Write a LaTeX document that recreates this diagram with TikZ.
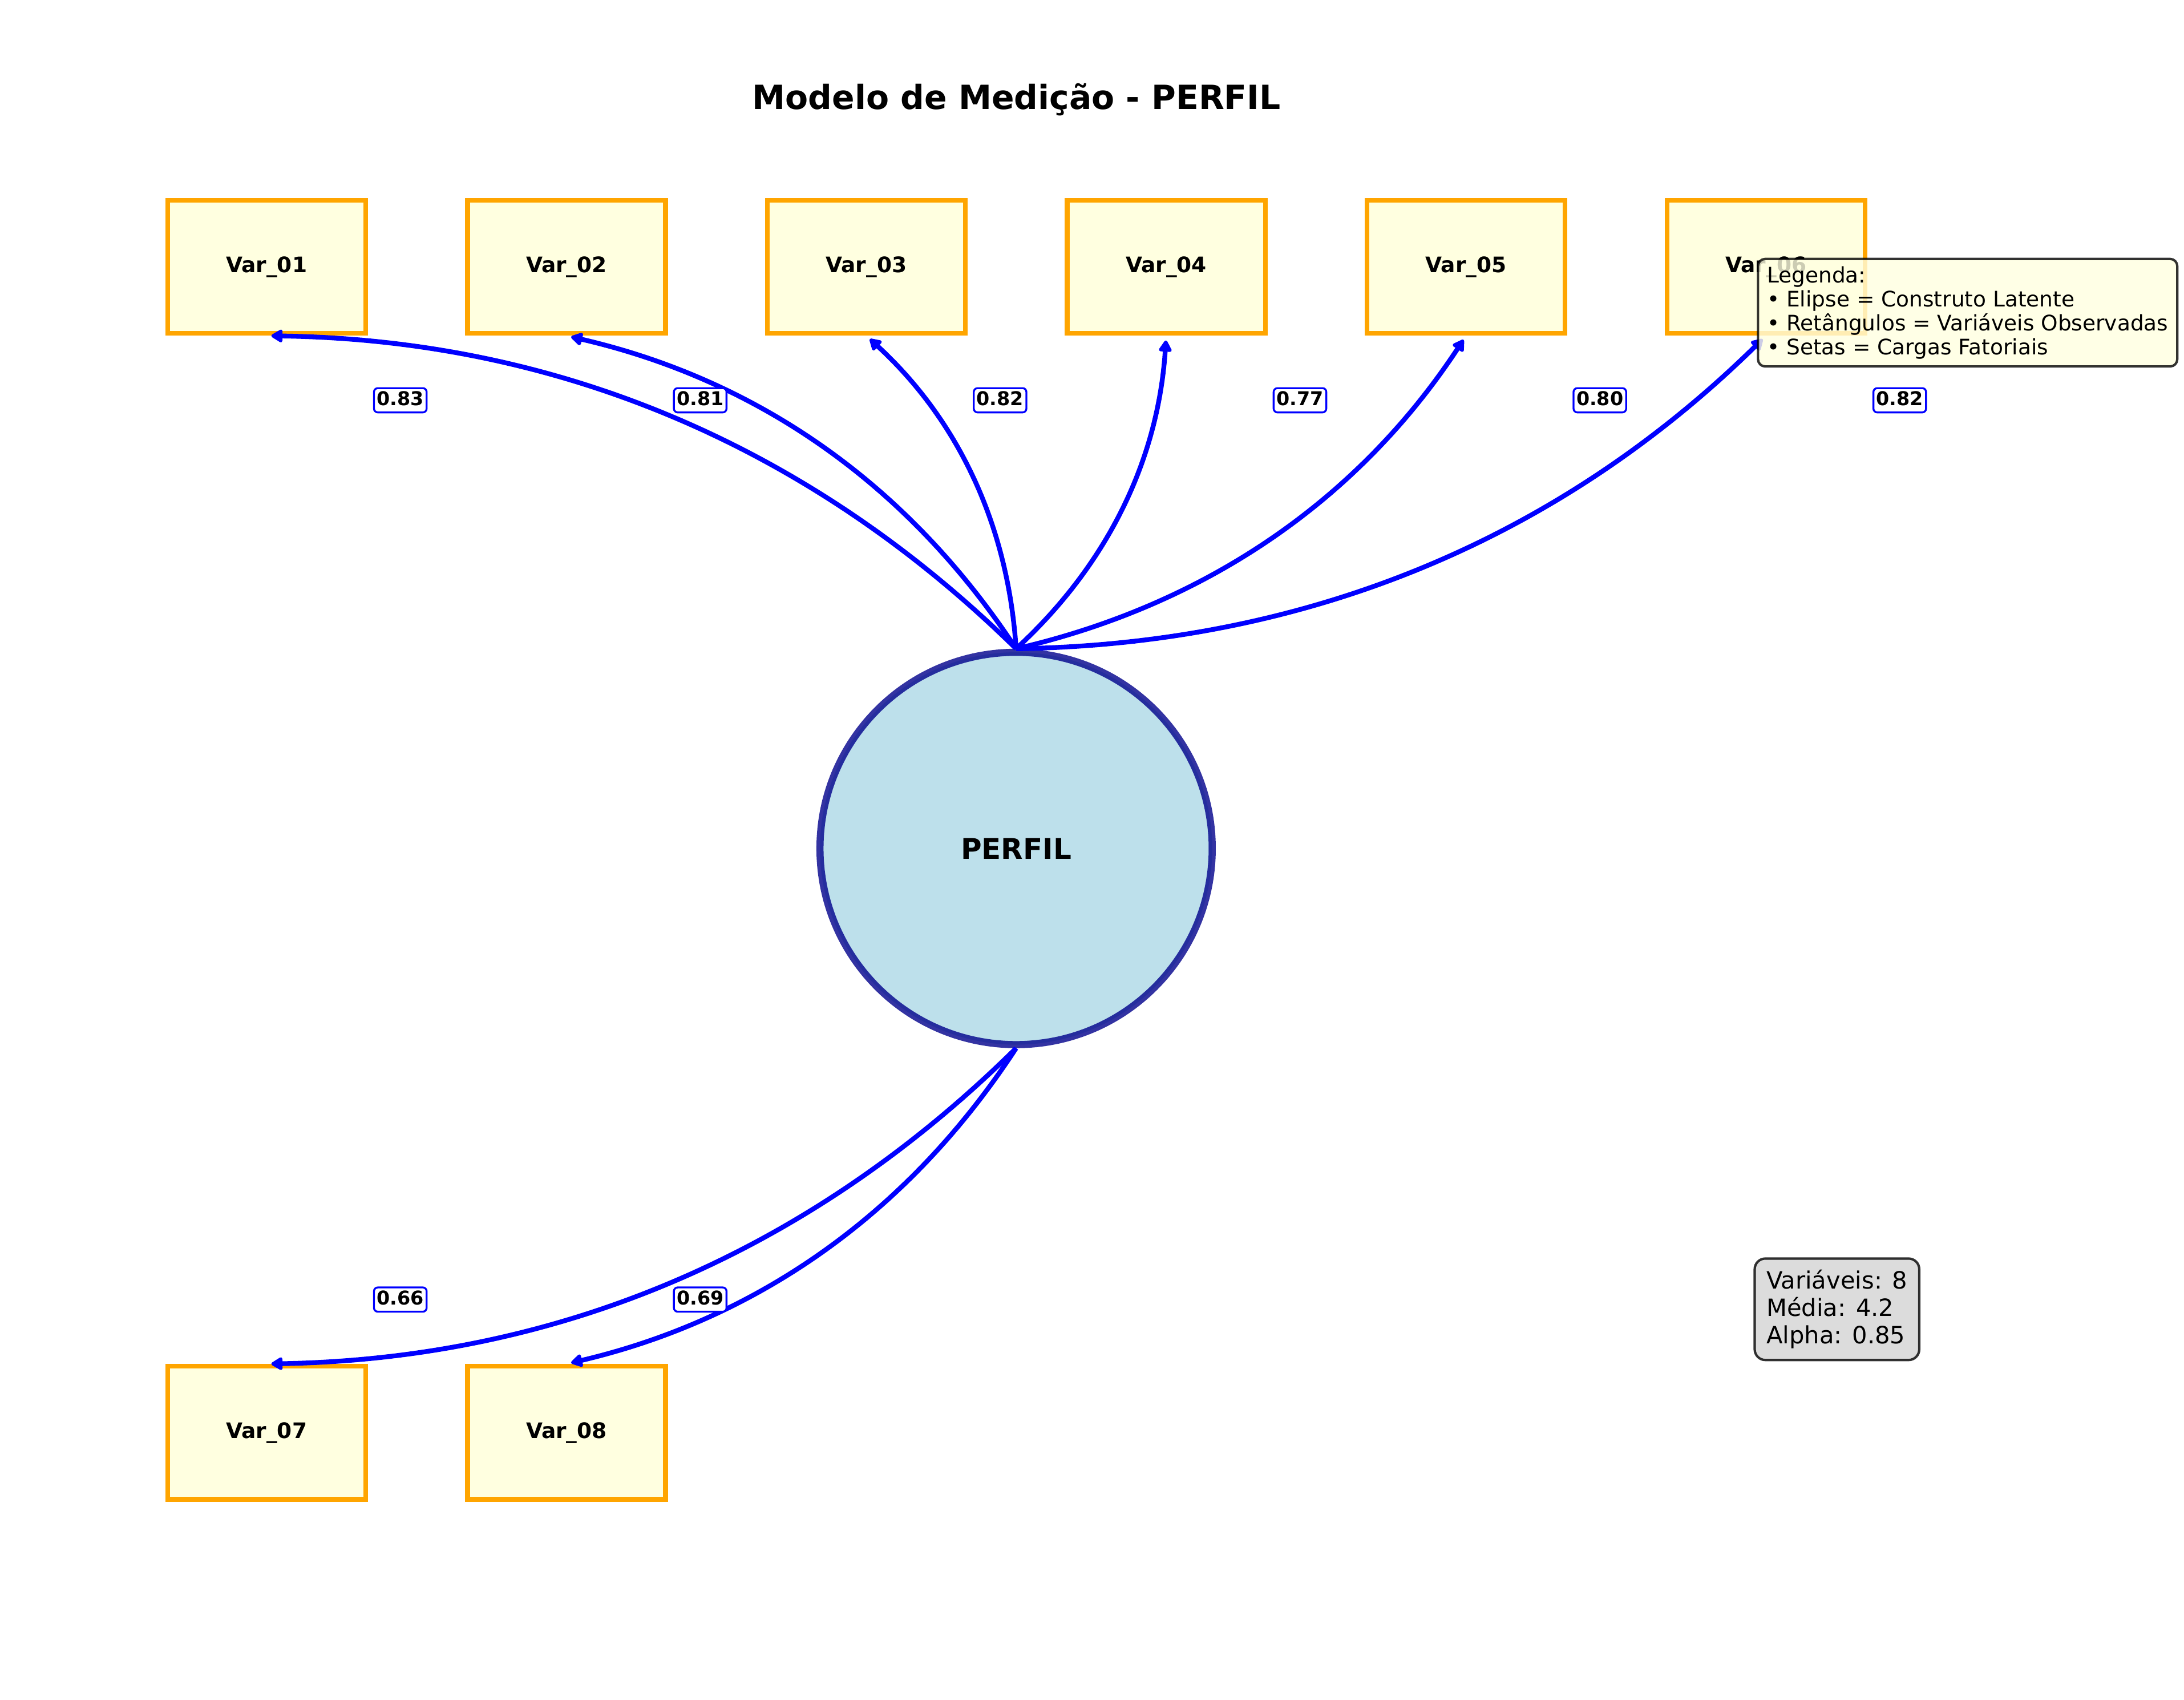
\documentclass[tikz,border=0pt]{standalone}
\usepackage{fontspec}
\setmainfont{DejaVu Sans}
\usepackage{tikz}
\usetikzlibrary{arrows.meta}
\definecolor{boxorange}{HTML}{FFA500}
\definecolor{boxfill}{HTML}{FFFFE0}
\definecolor{latentfill}{HTML}{ADD8E6}
\definecolor{latentedge}{HTML}{00008B}
\definecolor{statsfill}{HTML}{D3D3D3}
\tikzset{var/.style = {draw=boxorange, fill=boxfill, line width=2pt,
                       minimum width=83.3pt, minimum height=56pt, inner sep=0pt,
                       font=\bfseries\fontsize{9}{10.8}\selectfont}}
\tikzset{latent/.style = {circle, draw=latentedge, draw opacity=0.8,
                          fill=latentfill, fill opacity=0.8, text opacity=1,
                          line width=3pt, minimum size=165pt,
                          font=\bfseries\fontsize{12}{14.4}\selectfont}}
\tikzset{loading/.style = {draw=blue, line width=2pt, shorten >=2pt,
                           -{Triangle[length=5.4pt, width=6pt, round]}}}
\tikzset{weight/.style = {draw=blue, fill=white, line width=0.8pt, rounded corners=1.6pt,
                          inner xsep=1.2pt, inner ysep=1.4pt,
                          text height=5.9pt, text depth=1.5pt,
                          font=\bfseries\fontsize{8}{9.6}\selectfont}}
\tikzset{infobox/.style = {draw=black, draw opacity=0.8, fill opacity=0.8, text opacity=1,
                           line width=1pt, align=left, anchor=north west}}

\begin{document}
\begin{tikzpicture}[x=0.5859pt, y=-0.5859pt]
      \useasboundingbox (0, 0) rectangle (1568, 1220);
      \node [anchor=base, font=\bfseries\fontsize{14}{16.8}\selectfont] (title) at (729.8, 78.5) {Modelo de Medição - PERFIL};
      \node [latent] (perfil) at (729.5, 609) {PERFIL};
      \node [var] (var01) at (191.4, 191.5) {Var\_01};
      \node [var] (var02) at (406.7, 191.5) {Var\_02};
      \node [var] (var03) at (622.0, 191.5) {Var\_03};
      \node [var] (var04) at (837.3, 191.5) {Var\_04};
      \node [var] (var05) at (1052.6, 191.5) {Var\_05};
      \node [var] (var06) at (1267.9, 191.5) {Var\_06};
      \node [var] (var07) at (191.4, 1028.5) {Var\_07};
      \node [var] (var08) at (406.7, 1028.5) {Var\_08};
      \draw [loading] (perfil.north) to [bend right=21.8, looseness=0.917] (var01.south);
      \draw [loading] (perfil.north) to [bend right=21.8, looseness=0.917] (var02.south);
      \draw [loading] (perfil.north) to [bend right=21.8, looseness=0.917] (var03.south);
      \draw [loading] (perfil.north) to [bend right=21.8, looseness=0.917] (var04.south);
      \draw [loading] (perfil.north) to [bend right=21.8, looseness=0.917] (var05.south);
      \draw [loading] (perfil.north) to [bend right=21.8, looseness=0.917] (var06.south);
      \draw [loading] (perfil.south) to [bend left=21.8, looseness=0.917] (var07.north);
      \draw [loading] (perfil.south) to [bend left=21.8, looseness=0.917] (var08.north);
      \node [weight] (w01) at (287.4, 287.3) {0.83};
      \node [weight] (w02) at (502.7, 287.3) {0.81};
      \node [weight] (w03) at (718.0, 287.3) {0.82};
      \node [weight] (w04) at (933.3, 287.3) {0.77};
      \node [weight] (w05) at (1148.6, 287.3) {0.80};
      \node [weight] (w06) at (1363.9, 287.3) {0.82};
      \node [weight] (w07) at (287.4, 932.8) {0.66};
      \node [weight] (w08) at (502.7, 932.8) {0.69};
      % caixa de resumo e legenda
      \node [infobox, fill=statsfill, rounded corners=4.5pt, inner xsep=5pt, inner ysep=4.8pt,
             font=\fontsize{10}{11.5}\selectfont] (stats) at (1258.9, 902.5)
            {Variáveis: 8\\Média: 4.2\\Alpha: 0.85};
      \node [infobox, fill=boxfill, rounded corners=3pt, inner xsep=3.8pt, inner ysep=3.1pt,
             font=\fontsize{9}{10.1}\selectfont] (legend) at (1261.3, 185)
            {Legenda:\\• Elipse = Construto Latente\\• Retângulos = Variáveis Observadas\\• Setas = Cargas Fatoriais};
\end{tikzpicture}
\end{document}
